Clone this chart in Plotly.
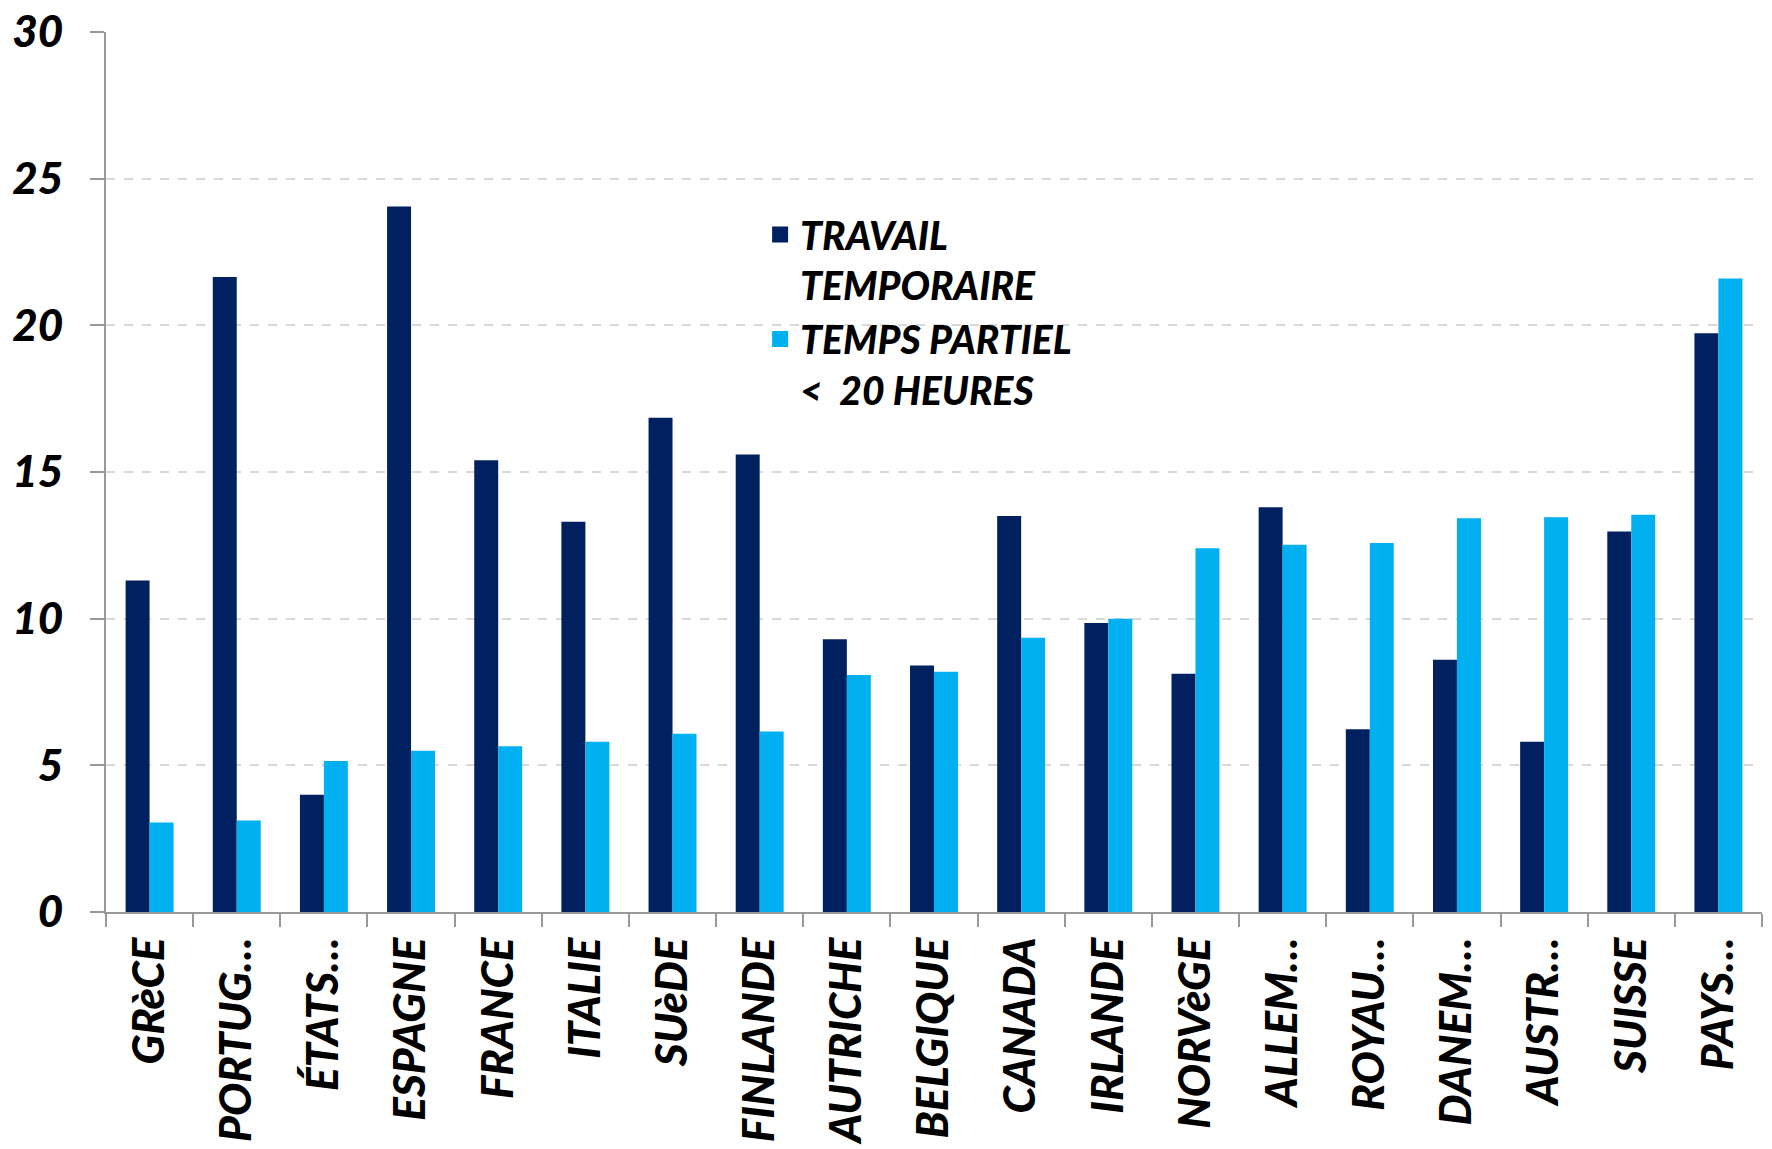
import plotly.graph_objects as go

categories = ["GRèCE", "PORTUG…", "ÉTATS…", "ESPAGNE", "FRANCE", "ITALIE", "SUèDE",
              "FINLANDE", "AUTRICHE", "BELGIQUE", "CANADA", "IRLANDE", "NORVèGE",
              "ALLEM…", "ROYAU…", "DANEM…", "AUSTR…", "SUISSE", "PAYS…"]
travail_temporaire = [11.3, 21.65, 4.0, 24.05, 15.4, 13.3, 16.85, 15.6, 9.3, 8.4,
                      13.5, 9.85, 8.12, 13.8, 6.23, 8.6, 5.8, 12.97, 19.73]
temps_partiel = [3.05, 3.12, 5.15, 5.5, 5.65, 5.8, 6.08, 6.15, 8.08, 8.19,
                 9.35, 10.0, 12.4, 12.52, 12.58, 13.42, 13.46, 13.54, 21.6]
y_ticks = [0, 5, 10, 15, 20, 25, 30]
series_names = ["TRAVAIL<br>TEMPORAIRE", "TEMPS PARTIEL<br><  20 HEURES"]
series_colors = ["#002060", "#00B0F0"]

FONT = "Lato, Roboto, 'Liberation Sans', sans-serif"

fig = go.Figure()
for vals, name, col in zip([travail_temporaire, temps_partiel], series_names, series_colors):
    fig.add_trace(go.Bar(x=categories, y=vals, name=name, showlegend=False,
                         marker=dict(color=col, line=dict(width=0))))
# legend entries with larger square swatches
for name, col in zip(series_names, series_colors):
    fig.add_trace(go.Scatter(x=[None], y=[None], mode="markers", name=name,
                             marker=dict(symbol="square", size=16, color=col)))

fig.update_layout(
    width=1772, height=1149,
    barmode="group", bargap=0.45, bargroupgap=0,
    plot_bgcolor="white", paper_bgcolor="white",
    margin=dict(l=106, r=10, t=32, b=237, autoexpand=False),
    font=dict(family=FONT, color="black"),
    legend=dict(x=0.395, y=0.806, xanchor="left", yanchor="top", valign="top",
                font=dict(family=FONT, size=39, weight=900, style="italic", color="black"),
                bgcolor="rgba(0,0,0,0)", tracegroupgap=0, itemsizing="trace",
                itemwidth=30),
    showlegend=True,
)
fig.update_xaxes(
    type="category", range=[-0.5, 18.5], tickangle=-90, automargin=False,
    showline=True, linecolor="#999999", linewidth=2,
    ticks="outside", tickson="boundaries", ticklen=13, tickcolor="#999999", tickwidth=2,
    tickfont=dict(family=FONT, size=44, weight=900, style="italic", color="black"),
    ticklabelstandoff=6,
    showgrid=False,
)
fig.update_yaxes(
    range=[0, 30], tickvals=y_ticks, ticktext=[str(v) for v in y_ticks], automargin=False,
    showline=True, linecolor="#999999", linewidth=2,
    ticks="outside", ticklen=14, tickcolor="#999999", tickwidth=2,
    showgrid=True, gridcolor="#d9d9d9", griddash="dash", gridwidth=1.5,
    zeroline=False,
    tickfont=dict(family=FONT, size=44, weight=900, style="italic", color="black"),
    ticklabelstandoff=18, ticklabeloverflow="allow",
)

fig.write_html("out.html", config={"displayModeBar": False},
               post_script="document.body.style.margin='0';")
